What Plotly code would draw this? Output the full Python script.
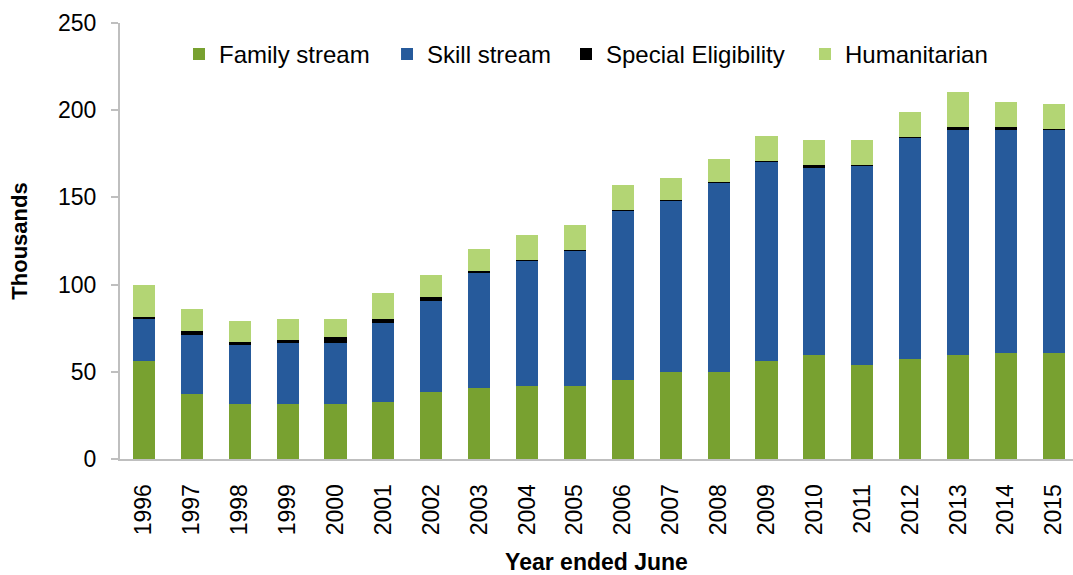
import plotly.graph_objects as go

# Permanent additions by stream, thousands
years = ["1996", "1997", "1998", "1999", "2000", "2001", "2002", "2003", "2004", "2005",
         "2006", "2007", "2008", "2009", "2010", "2011", "2012", "2013", "2014", "2015"]
family_stream = [56.4, 37.1, 31.4, 31.4, 31.4, 32.5, 38.3, 40.7, 41.6, 41.6,
                 45.1, 49.7, 49.7, 56.2, 59.7, 54.1, 57.4, 59.7, 61.0, 61.0]
skill_stream = [23.9, 34.0, 34.2, 35.3, 35.3, 45.7, 52.3, 66.0, 72.0, 77.7,
                97.5, 98.3, 108.6, 114.4, 107.4, 114.2, 127.0, 129.3, 128.0, 128.0]
special_eligibility = [1.3, 2.5, 1.3, 1.4, 3.5, 2.3, 2.5, 1.3, 0.3, 0.3,
                       0.3, 0.3, 0.3, 0.2, 1.4, 0.2, 0.2, 1.1, 1.1, 0.1]
humanitarian = [18.1, 12.5, 12.3, 12.2, 10.1, 14.5, 12.2, 12.3, 14.5, 14.6,
                14.2, 12.9, 13.2, 14.5, 14.5, 14.5, 14.5, 20.5, 14.7, 14.6]

y_ticks = [0, 50, 100, 150, 200, 250]

series = [
    ("Family stream", family_stream, "#78A130", "legend"),
    ("Skill stream", skill_stream, "#265A9B", "legend2"),
    ("Special Eligibility", special_eligibility, "#000000", "legend3"),
    ("Humanitarian", humanitarian, "#B3D574", "legend4"),
]

FONT = "Liberation Sans, Arial, sans-serif"

fig = go.Figure()
for name, values, color, leg in series:
    fig.add_trace(go.Bar(
        x=years, y=values, name=name,
        marker=dict(color=color, line=dict(width=0)),
        legend=leg, showlegend=True,
    ))

legend_common = dict(
    orientation="h", xanchor="left", yanchor="middle", y=0.928,
    font=dict(family=FONT, size=24, color="#000000"),
    bgcolor="rgba(0,0,0,0)", itemwidth=30,
)

fig.update_layout(
    width=1073, height=575,
    margin=dict(l=120, r=0, t=23, b=116),
    paper_bgcolor="white", plot_bgcolor="white",
    barmode="stack", bargap=0.54, showlegend=True,
    font=dict(family=FONT, size=22, color="#000000"),
    legend=dict(x=0.0619, **legend_common),
    legend2=dict(x=0.2802, **legend_common),
    legend3=dict(x=0.468, **legend_common),
    legend4=dict(x=0.7188, **legend_common),
    xaxis=dict(
        type="category", range=[-0.5, 19.4],
        showline=True, linecolor="#BFBFBF", linewidth=2,
        ticks="", tickangle=-90, ticklabelstandoff=14,
        tickfont=dict(family=FONT, size=23, color="#000000"),
        showgrid=False, zeroline=False,
        title=dict(text="<b>Year ended June</b>", standoff=20,
                   font=dict(family=FONT, size=23, color="#000000")),
    ),
    yaxis=dict(
        range=[0, 250], tickvals=y_ticks,
        showline=True, linecolor="#BFBFBF", linewidth=2,
        ticks="outside", ticklen=7, tickwidth=2, tickcolor="#BFBFBF",
        ticklabelstandoff=10,
        tickfont=dict(family=FONT, size=23, color="#000000"),
        showgrid=False, zeroline=False,
        title=dict(text="<b>Thousands</b>", standoff=24,
                   font=dict(family=FONT, size=22, color="#000000")),
    ),
)

fig.write_html("out.html")
